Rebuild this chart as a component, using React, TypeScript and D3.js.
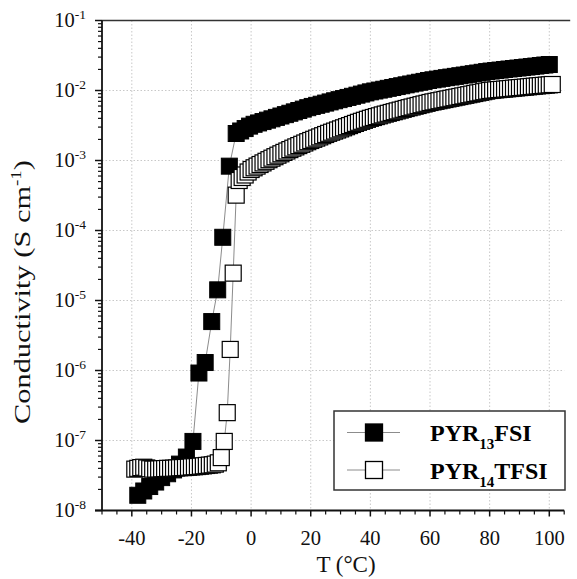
import React from 'react';
import * as d3 from 'd3';

// PYR13FSI (filled squares): low-temperature and transition region, [T °C] / [S cm-1]
const fsiLowT = [-38, -36, -34, -32, -30, -28, -26, -24, -21.7, -19.5, -17.5, -15.4, -13.2, -11.2, -9.5, -7.3];
const fsiLowS = [1.65e-8, 1.9e-8, 2.2e-8, 2.55e-8, 2.95e-8, 3.35e-8, 3.8e-8, 4.6e-8, 5.8e-8, 9.7e-8, 9.2e-7, 1.3e-6, 5.0e-6, 1.42e-5, 8.0e-5, 8.3e-4];
// PYR13FSI liquid region, sampled every 1.5 °C from -5 °C
const fsiHighStart = -5;
const fsiHighStep = 1.5;
const fsiHighS = [
  2.43e-3, 2.64e-3, 2.86e-3, 3.10e-3, 3.29e-3, 3.44e-3, 3.60e-3, 3.77e-3, 3.94e-3, 4.13e-3,
  4.32e-3, 4.52e-3, 4.73e-3, 4.95e-3, 5.18e-3, 5.42e-3, 5.68e-3, 5.92e-3, 6.14e-3, 6.37e-3,
  6.61e-3, 6.87e-3, 7.13e-3, 7.40e-3, 7.67e-3, 7.96e-3, 8.26e-3, 8.57e-3, 8.89e-3, 9.23e-3,
  9.57e-3, 9.84e-3, 1.014e-2, 1.042e-2, 1.074e-2, 1.104e-2, 1.138e-2, 1.169e-2, 1.205e-2, 1.239e-2,
  1.276e-2, 1.312e-2, 1.349e-2, 1.390e-2, 1.422e-2, 1.455e-2, 1.489e-2, 1.524e-2, 1.556e-2, 1.592e-2,
  1.626e-2, 1.663e-2, 1.702e-2, 1.738e-2, 1.778e-2, 1.820e-2, 1.862e-2, 1.897e-2, 1.928e-2, 1.959e-2,
  1.995e-2, 2.028e-2, 2.061e-2, 2.094e-2, 2.128e-2, 2.163e-2, 2.198e-2, 2.234e-2, 2.275e-2, 2.312e-2,
  2.350e-2,
];

// PYR14TFSI (open squares), sampled every 1 °C from -39 °C to 101 °C
const tfsiStart = -39;
const tfsiS = [
  // -39 .. -11
  3.9e-8, 4.0e-8, 4.1e-8, 4.15e-8, 4.05e-8, 3.95e-8, 3.9e-8, 3.9e-8, 3.92e-8, 3.95e-8,
  3.97e-8, 4.0e-8, 4.0e-8, 4.02e-8, 4.05e-8, 4.08e-8, 4.1e-8, 4.12e-8, 4.15e-8, 4.2e-8,
  4.22e-8, 4.25e-8, 4.3e-8, 4.35e-8, 4.4e-8, 4.45e-8, 4.5e-8, 4.6e-8, 4.8e-8,
  // -10 .. -5
  5.7e-8, 9.7e-8, 2.5e-7, 2.0e-6, 2.46e-5, 3.2e-4,
  // -4 .. 101
  5.18e-4, 5.72e-4, 6.21e-4, 6.85e-4, 7.44e-4, 7.87e-4, 8.32e-4, 8.77e-4, 9.24e-4, 9.74e-4,
  1.027e-3, 1.079e-3, 1.133e-3, 1.191e-3, 1.247e-3, 1.306e-3, 1.367e-3, 1.431e-3, 1.499e-3, 1.564e-3,
  1.633e-3, 1.704e-3, 1.778e-3, 1.856e-3, 1.931e-3, 2.009e-3, 2.089e-3, 2.173e-3, 2.261e-3, 2.352e-3,
  2.446e-3, 2.537e-3, 2.630e-3, 2.727e-3, 2.828e-3, 2.932e-3, 3.040e-3, 3.152e-3, 3.268e-3, 3.388e-3,
  3.513e-3, 3.631e-3, 3.753e-3, 3.878e-3, 4.008e-3, 4.114e-3, 4.238e-3, 4.351e-3, 4.481e-3, 4.602e-3,
  4.724e-3, 4.851e-3, 4.980e-3, 5.113e-3, 5.248e-3, 5.388e-3, 5.532e-3, 5.679e-3, 5.812e-3, 5.966e-3,
  6.105e-3, 6.268e-3, 6.414e-3, 6.564e-3, 6.739e-3, 6.872e-3, 7.009e-3, 7.150e-3, 7.293e-3, 7.435e-3,
  7.586e-3, 7.738e-3, 7.891e-3, 8.048e-3, 8.209e-3, 8.373e-3, 8.539e-3, 8.710e-3, 8.884e-3, 9.060e-3,
  9.241e-3, 9.426e-3, 9.614e-3, 9.804e-3, 1.000e-2, 1.010e-2, 1.020e-2, 1.030e-2, 1.037e-2, 1.047e-2,
  1.058e-2, 1.068e-2, 1.079e-2, 1.089e-2, 1.100e-2, 1.107e-2, 1.118e-2, 1.130e-2, 1.141e-2, 1.152e-2,
  1.163e-2, 1.175e-2, 1.183e-2, 1.194e-2, 1.206e-2, 1.218e-2,
];

const xTicks = [-40, -20, 0, 20, 40, 60, 80, 100];
const yExponents = [-8, -7, -6, -5, -4, -3, -2, -1];
const seriesNames = [
  { base: 'PYR', sub: '13', tail: 'FSI', filled: true },
  { base: 'PYR', sub: '14', tail: 'TFSI', filled: false },
];

const W = 577;
const H = 579;
const L = 102;
const R = 564.2;
const T = 20.5;
const B = 510.5;
const FONT = '"Liberation Serif", "Times New Roman", serif';

export default function App() {
  const x = d3.scaleLinear().domain([-50, 105]).range([L, R]);
  const y = d3.scaleLog().domain([1e-8, 1e-1]).range([B, T]);

  const fsi: [number, number][] = [
    ...fsiLowT.map((t, i) => [t, fsiLowS[i]] as [number, number]),
    ...fsiHighS.map((s, i) => [fsiHighStart + fsiHighStep * i, s] as [number, number]),
  ];
  const tfsi: [number, number][] = tfsiS.map((s, i) => [tfsiStart + i, s] as [number, number]);

  const line = d3
    .line<[number, number]>()
    .x((d) => x(d[0]))
    .y((d) => y(d[1]));

  const ms = 16;
  const xMinor = d3.range(-50, 106, 5).filter((v) => !xTicks.includes(v));
  const yMinor: number[] = [];
  for (let e = -8; e < -1; e++) for (let k = 2; k <= 9; k++) yMinor.push(k * Math.pow(10, e));

  return (
    <svg width={W} height={H} style={{ position: 'absolute', left: 0, top: 0, background: '#fff' }} fontFamily={FONT}>
      <rect x={0} y={0} width={W} height={H} fill="#fff" />
      {/* grid */}
      {xTicks.map((t) => (
        <line key={'gx' + t} x1={x(t)} x2={x(t)} y1={T} y2={B} stroke="#c8c8c8" strokeWidth={1} strokeDasharray="1.5,2" />
      ))}
      {yExponents.slice(1, -1).map((e) => (
        <line key={'gy' + e} x1={L} x2={R} y1={y(Math.pow(10, e))} y2={y(Math.pow(10, e))} stroke="#c8c8c8" strokeWidth={1} strokeDasharray="1.5,2" />
      ))}

      {/* connecting lines */}
      <path d={line(fsi) || ''} fill="none" stroke="#8c8c8c" strokeWidth={1} />
      <path d={line(tfsi) || ''} fill="none" stroke="#8c8c8c" strokeWidth={1} />

      {/* markers */}
      {fsi.map((d, i) => (
        <rect key={'f' + i} x={x(d[0]) - ms / 2} y={y(d[1]) - ms / 2} width={ms} height={ms} fill="#000" stroke="#000" strokeWidth={1} />
      ))}
      {tfsi.map((d, i) => (
        <rect key={'o' + i} x={x(d[0]) - ms / 2} y={y(d[1]) - ms / 2} width={ms} height={ms} fill="#fff" stroke="#000" strokeWidth={1.2} />
      ))}

      {/* axes frame */}
      <line x1={L} x2={R + 6} y1={T} y2={T} stroke="#333" strokeWidth={1.5} />
      <line x1={L} x2={L} y1={T} y2={B} stroke="#111" strokeWidth={1.8} />
      <line x1={L - 7} x2={R} y1={B} y2={B} stroke="#111" strokeWidth={1.8} />

      {/* x ticks */}
      {xTicks.map((t) => (
        <g key={'xt' + t}>
          <line x1={x(t)} x2={x(t)} y1={B} y2={B + 6} stroke="#111" strokeWidth={1.5} />
          <text x={x(t)} y={545} fontSize={20.5} textAnchor="middle" fill="#111">
            {t}
          </text>
        </g>
      ))}
      {xMinor.map((t) => (
        <line key={'xm' + t} x1={x(t)} x2={x(t)} y1={B} y2={B + 4} stroke="#111" strokeWidth={1.2} />
      ))}

      {/* y ticks */}
      {yExponents.map((e) => (
        <g key={'yt' + e}>
          <line x1={L - 7} x2={L} y1={y(Math.pow(10, e))} y2={y(Math.pow(10, e))} stroke="#111" strokeWidth={1.5} />
          <text x={86} y={y(Math.pow(10, e)) + 6.5} fontSize={20.5} textAnchor="end" fill="#111">
            10
            <tspan fontSize={13.5} dy={-8}>
              {String(e)}
            </tspan>
          </text>
        </g>
      ))}
      {yMinor.map((v, i) => (
        <line key={'ym' + i} x1={L - 4} x2={L} y1={y(v)} y2={y(v)} stroke="#111" strokeWidth={1.2} />
      ))}

      {/* axis titles */}
      <text x={346} y={572} fontSize={23} textAnchor="middle" fill="#111">
        T (°C)
      </text>
      <text
        transform="translate(30,292) rotate(-90)"
        fontSize={24}
        textAnchor="middle"
        fill="#111"
        textLength={264}
        lengthAdjust="spacingAndGlyphs"
      >
        Conductivity (S cm
        <tspan fontSize={15} dy={-9}>
          -1
        </tspan>
        <tspan dy={9}>)</tspan>
      </text>

      {/* legend */}
      <rect x={334} y={411} width={231} height={79} fill="#fff" stroke="#333" strokeWidth={1.5} />
      {seriesNames.map((s, i) => {
        const cy = 432.5 + i * 37.5;
        return (
          <g key={'lg' + i}>
            <line x1={347} x2={400} y1={cy} y2={cy} stroke="#8c8c8c" strokeWidth={1} />
            <rect x={374 - 8.5} y={cy - 8.5} width={17} height={17} fill={s.filled ? '#000' : '#fff'} stroke="#000" strokeWidth={1.3} />
            <text x={430} y={cy + 8.5} fontSize={24} fontWeight="bold" fill="#000">
              {s.base}
              <tspan fontSize={15} dy={8}>
                {s.sub}
              </tspan>
              <tspan dy={-8}>{s.tail}</tspan>
            </text>
          </g>
        );
      })}
    </svg>
  );
}
